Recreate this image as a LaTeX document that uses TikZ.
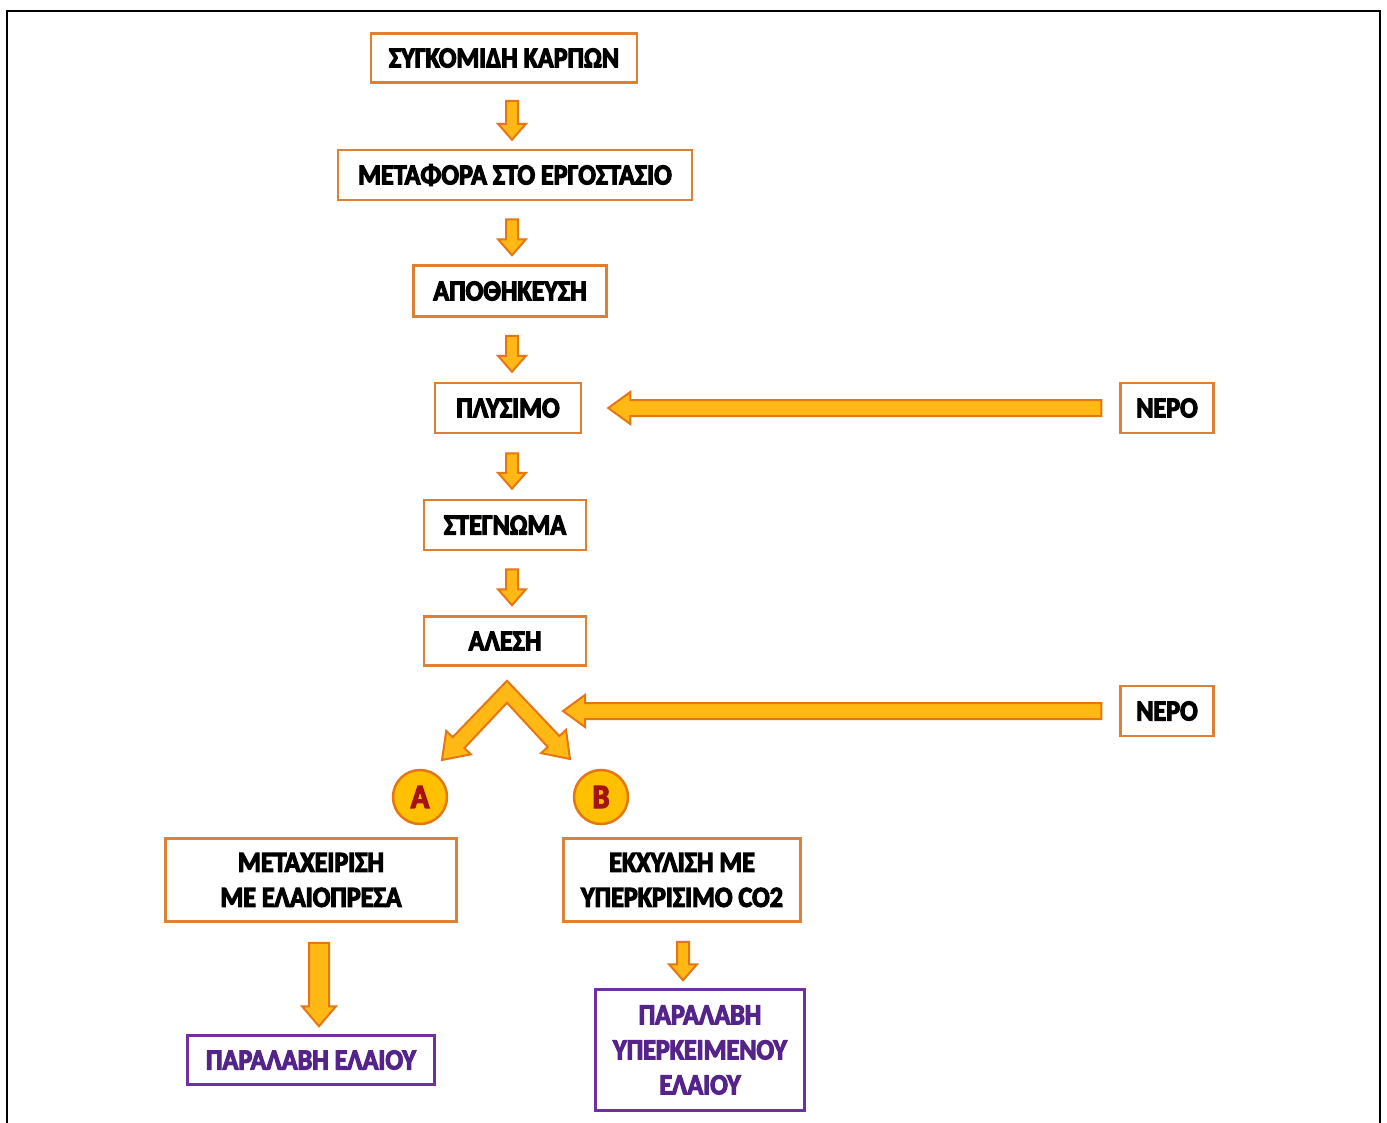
\documentclass[tikz,border=0pt]{standalone}
\usepackage{fontspec}
\setmainfont{Carlito}[BoldFeatures={FakeBold=4,FakeStretch=0.9}]
\usetikzlibrary{calc}

\definecolor{boxline}{RGB}{222,128,52}
\definecolor{arrfill}{RGB}{255,184,20}
\definecolor{arrline}{RGB}{228,118,20}
\definecolor{purp}{RGB}{112,48,160}
\definecolor{purptext}{RGB}{84,36,138}
\definecolor{circfill}{RGB}{255,192,0}
\definecolor{letter}{RGB}{165,18,18}

\tikzset{
  stagebox/.style={draw=boxline, line width=2.5pt, fill=white, inner sep=0pt,
    align=center, font=\fontsize{29}{35}\selectfont\bfseries},
  resultbox/.style={draw=purp, line width=2.5pt, fill=white, inner sep=0pt,
    align=center, text=purptext, font=\fontsize{29}{35}\selectfont\bfseries},
  tag/.style={circle, draw=arrline, line width=2.5pt, fill=circfill,
    minimum size=54pt, inner sep=0pt, text=letter,
    font=\fontsize{34}{34}\selectfont\bfseries},
  flow/.style={fill=arrfill, draw=arrline, line width=2pt, line join=miter}
}

% block arrow: #1 options, #2 start, #3 tip, #4 half shaft, #5 half head, #6 head length
\newcommand\blockarrow[6][]{%
  \draw[flow,#1]
    ($#2!#4!90:#3$) -- ($($#3!#6!#2$)!#4!90:#3$) -- ($($#3!#6!#2$)!#5!90:#3$)
    -- #3 --
    ($($#3!#6!#2$)!#5!-90:#3$) -- ($($#3!#6!#2$)!#4!-90:#3$) -- ($#2!#4!-90:#3$)
    -- cycle;}

\begin{document}
\begin{tikzpicture}[x=1pt, y=-1pt]
\useasboundingbox (0,0) rectangle (1387,1122);
\fill[white] (0,0) rectangle (1387,1122);
% frame
\draw[line width=2.5pt] (7,1135) -- (7,11) -- (1380,11) -- (1380,1135);

% process stages
\node[stagebox, minimum width=266pt, minimum height=49pt] (n1) at (504,58) {ΣΥΓΚΟΜΙΔΗ ΚΑΡΠΩΝ};
\node[stagebox, minimum width=354pt, minimum height=50pt] (n2) at (515,175) {ΜΕΤΑΦΟΡΑ ΣΤΟ ΕΡΓΟΣΤΑΣΙΟ};
\node[stagebox, minimum width=193pt, minimum height=51pt] (n3) at (510,291) {ΑΠΟΘΗΚΕΥΣΗ};
\node[stagebox, minimum width=146pt, minimum height=50pt] (n4) at (508,408) {ΠΛΥΣΙΜΟ};
\node[stagebox, minimum width=162pt, minimum height=50pt] (n5) at (505,525) {ΣΤΕΓΝΩΜΑ};
\node[stagebox, minimum width=162pt, minimum height=49pt] (n6) at (505,641) {ΑΛΕΣΗ};

% water inputs
\node[stagebox, minimum width=93pt, minimum height=50pt] (w1) at (1167,408) {ΝΕΡΟ};
\node[stagebox, minimum width=93pt, minimum height=50pt] (w2) at (1167,711) {ΝΕΡΟ};

% the two routes
\node[tag] (ca) at (420,797) {Α};
\node[tag] (cb) at (601,797) {Β};
\node[stagebox, minimum width=291pt, minimum height=83pt] (ta) at (311,880) {ΜΕΤΑΧΕΙΡΙΣΗ\\ΜΕ ΕΛΑΙΟΠΡΕΣΑ};
\node[stagebox, minimum width=237pt, minimum height=83pt] (tb) at (682,880) {ΕΚΧΥΛΙΣΗ ΜΕ\\ΥΠΕΡΚΡΙΣΙΜΟ CO2};
\node[resultbox, minimum width=247pt, minimum height=49pt] (ra) at (311,1060) {ΠΑΡΑΛΑΒΗ ΕΛΑΙΟΥ};
\node[resultbox, minimum width=209pt, minimum height=121pt] (rb) at (700,1050) {ΠΑΡΑΛΑΒΗ\\ΥΠΕΡΚΕΙΜΕΝΟΥ\\ΕΛΑΙΟΥ};

% main line arrows
\blockarrow{($(n1.south)+(8,17)$)}{($(n2.north)+(-3,-9)$)}{6pt}{14pt}{16pt}
\blockarrow{($(n2.south)+(-3,18)$)}{($(n3.north)+(2,-9)$)}{6pt}{14pt}{16pt}
\blockarrow{($(n3.south)+(2,18)$)}{($(n4.north)+(4,-10)$)}{6pt}{14pt}{16pt}
\blockarrow{($(n4.south)+(4,19)$)}{($(n5.north)+(7,-10)$)}{6pt}{14pt}{16pt}
\blockarrow{($(n5.south)+(7,18)$)}{($(n6.north)+(7,-10)$)}{6pt}{14pt}{16pt}

% water feed arrows
\coordinate (split) at ($(n6.south)+(2,25)$);
\coordinate (feed) at ($(split |- w2.west)+(56,0)$);
\blockarrow{($(w1.west)+(-18,0)$)}{($(n4.east)+(26,0)$)}{8pt}{16pt}{22pt}
\blockarrow{($(w2.west)+(-18,0)$)}{(feed)}{8pt}{16pt}{22pt}

% split into the two routes
\coordinate (tl) at ($(ca)+(22,-37)$);
\coordinate (tr) at ($(cb)+(-31,-38)$);
\coordinate (hl) at ($(tl)!24pt!(split)$);
\coordinate (hr) at ($(tr)!24pt!(split)$);
\draw[flow]
  ($(split)+(0,-11)$) -- ($(hl)!8pt!-90:(tl)$) -- ($(hl)!17pt!-90:(tl)$) -- (tl)
  -- ($(hl)!17pt!90:(tl)$) -- ($(hl)!8pt!90:(tl)$) -- ($(split)+(0,11)$)
  -- ($(hr)!8pt!-90:(tr)$) -- ($(hr)!17pt!-90:(tr)$) -- (tr)
  -- ($(hr)!17pt!90:(tr)$) -- ($(hr)!8pt!90:(tr)$) -- cycle;

% route outputs
\blockarrow{($(ta.south)+(8,20)$)}{($(ra.north)+(8,-8)$)}{10pt}{17pt}{20pt}
\blockarrow{($(tb.south)+(1,19)$)}{($(rb.north)+(-17,-8)$)}{6pt}{14pt}{16pt}
\end{tikzpicture}
\end{document}
